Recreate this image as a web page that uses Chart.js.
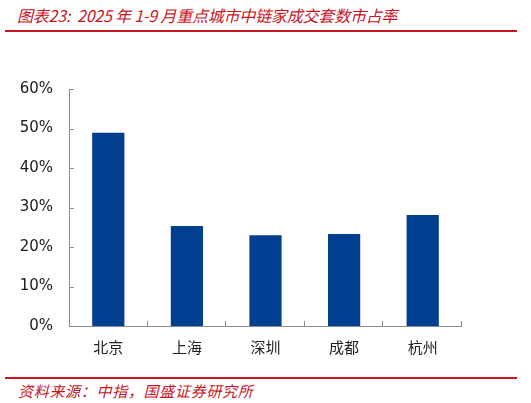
<!DOCTYPE html>
<html>
<head>
<meta charset="utf-8">
<script src="https://cdn.jsdelivr.net/npm/chart.js@4"></script>
<style>
  html, body { margin: 0; padding: 0; background: #fff; }
  #wrap { position: relative; width: 531px; height: 403px; overflow: hidden; }
  #title { position: absolute; left: 17px; top: 3px; font: italic 16px "Noto Sans CJK SC", "Liberation Sans", sans-serif; color: #c8141e; white-space: nowrap; letter-spacing: -0.2px; }
  .rule { position: absolute; left: 5px; width: 512px; height: 2px; background: #c8141e; }
  #footer { position: absolute; left: 18px; top: 380px; font: italic 15px "Noto Sans CJK SC", sans-serif; color: #c8141e; white-space: nowrap; letter-spacing: 0.7px; }
  #chartBox { position: absolute; left: 0; top: 40px; width: 531px; height: 330px; }
</style>
</head>
<body>
<div id="wrap">
  <div id="title">图表23:&nbsp; 2025 年 1-9 月重点城市中链家成交套数市占率</div>
  <div class="rule" style="top:30px"></div>
  <div id="chartBox"><canvas id="c"></canvas></div>
  <div class="rule" style="top:377px"></div>
  <div id="footer">资料来源：中指，国盛证券研究所</div>
</div>
<script>
const categories = ['北京', '上海', '深圳', '成都', '杭州'];
const shareValues = [48.9, 25.3, 23.0, 23.3, 28.1];
const yTickValues = [0, 10, 20, 30, 40, 50, 60];

const axisColor = '#8c8c8c';

const innerTicks = {
  id: 'innerTicks',
  afterDatasetsDraw(chart) {
    const ctx = chart.ctx;
    const x = chart.scales.x, y = chart.scales.y;
    const ca = chart.chartArea;
    ctx.save();
    ctx.strokeStyle = axisColor;
    ctx.lineWidth = 1;
    ctx.beginPath();
    ctx.moveTo(ca.left + 0.5, ca.top);
    ctx.lineTo(ca.left + 0.5, ca.bottom + 0.5);
    ctx.lineTo(ca.right, ca.bottom + 0.5);
    yTickValues.forEach(v => {
      const py = Math.round(y.getPixelForValue(v)) + 0.5;
      ctx.moveTo(ca.left, py);
      ctx.lineTo(ca.left + 5, py);
    });
    for (let i = 0; i < categories.length; i++) {
      const px = Math.round(x.getPixelForValue(i) + (x.getPixelForValue(1) - x.getPixelForValue(0)) / 2) - 0.5;
      ctx.moveTo(px, ca.bottom);
      ctx.lineTo(px, ca.bottom - 5);
    }
    ctx.stroke();
    ctx.restore();
  }
};

new Chart(document.getElementById('c'), {
  type: 'bar',
  data: {
    labels: categories,
    datasets: [{
      data: shareValues,
      backgroundColor: '#033f91',
      borderWidth: 0,
      categoryPercentage: 1,
      barPercentage: 0.41
    }]
  },
  options: {
    responsive: true,
    maintainAspectRatio: false,
    animation: false,
    layout: { padding: { left: 0, right: 69, top: 49, bottom: 0 } },
    plugins: { legend: { display: false }, tooltip: { enabled: false } },
    scales: {
      x: {
        grid: { display: false, drawTicks: false },
        border: { display: false },
        ticks: { color: '#222', font: { family: '"Noto Sans CJK SC"', size: 15 }, padding: 12 },
        afterFit(s) { s.height = 44; }
      },
      y: {
        min: 0, max: 60,
        afterBuildTicks(s) { s.ticks = yTickValues.map(v => ({ value: v })); },
        grid: { display: false, drawTicks: false },
        border: { display: false },
        ticks: {
          color: '#1a1a1a',
          font: { family: '"DejaVu Sans"', size: 15 },
          padding: 16,
          callback: v => v + '%'
        },
        afterFit(s) { s.width = 69; }
      }
    }
  },
  plugins: [innerTicks]
});
</script>
</body>
</html>
